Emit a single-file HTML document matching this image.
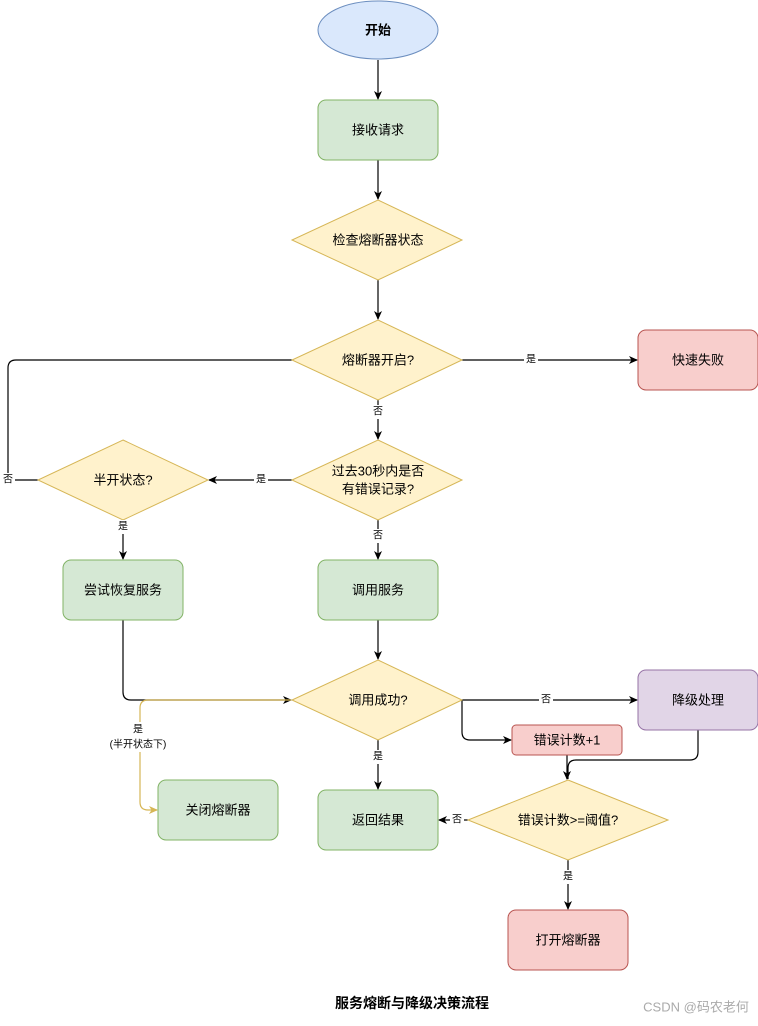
<!DOCTYPE html>
<html><head><meta charset="utf-8"><style>
body{margin:0;background:#fff}
text{font-family:"Liberation Sans","Noto Sans CJK SC",sans-serif;font-size:13px;fill:#000;text-anchor:middle;dominant-baseline:central}
.l{font-size:10px}
</style></head><body>
<svg width="758" height="1021" viewBox="0 0 758 1021" xmlns="http://www.w3.org/2000/svg">
<defs>
<marker id="a" markerWidth="10" markerHeight="10" refX="8" refY="5" orient="auto" markerUnits="userSpaceOnUse"><path d="M0,1 L9,5 L0,9 L2.5,5 Z" fill="#000"/></marker>
<marker id="y" markerWidth="10" markerHeight="10" refX="8" refY="5" orient="auto" markerUnits="userSpaceOnUse"><path d="M0,1 L9,5 L0,9 L2.5,5 Z" fill="#d6b656"/></marker>
</defs>
<g fill="none" stroke="#000" stroke-width="1.2">
<path d="M378 60V99" marker-end="url(#a)"/>
<path d="M378 160V199" marker-end="url(#a)"/>
<path d="M378 280V319" marker-end="url(#a)"/>
<path d="M462 360H637" marker-end="url(#a)"/>
<path d="M38 480H8V368Q8 360 16 360H292"/>
<path d="M378 400V439" marker-end="url(#a)"/>
<path d="M292 480H209" marker-end="url(#a)"/>
<path d="M378 520V559" marker-end="url(#a)"/>
<path d="M123 520V559" marker-end="url(#a)"/>
<path d="M378 620V659" marker-end="url(#a)"/>
<path d="M123 620V692Q123 700 131 700H291" marker-end="url(#a)"/>
<path d="M462 700H637" marker-end="url(#a)"/>
<path d="M462 700V732Q462 740 470 740H511" marker-end="url(#a)"/>
<path d="M378 740V789" marker-end="url(#a)"/>
<path d="M567 755V779" marker-end="url(#a)"/>
<path d="M698 730V752Q698 760 690 760H576Q568 760 568 768V779"/>
<path d="M468 820H439" marker-end="url(#a)"/>
<path d="M568 860V909" marker-end="url(#a)"/>
</g>
<path d="M291 700H148Q140 700 140 708V802Q140 810 148 810H157" fill="none" stroke="#d6b656" stroke-width="1.2" marker-end="url(#y)"/>
<ellipse cx="378" cy="30" rx="60" ry="29" fill="#dae8fc" stroke="#6c8ebf"/>
<g stroke-width="1">
<rect x="318" y="100" width="120" height="60" rx="8" fill="#d5e8d4" stroke="#82b366"/>
<path d="M378 200L462 240L378 280L292 240Z" fill="#fff2cc" stroke="#d6b656"/>
<path d="M378 320L462 360L378 400L292 360Z" fill="#fff2cc" stroke="#d6b656"/>
<rect x="638" y="330" width="120" height="60" rx="8" fill="#f8cecc" stroke="#b85450"/>
<path d="M378 440L462 480L378 520L292 480Z" fill="#fff2cc" stroke="#d6b656"/>
<path d="M123 440L208 480L123 520L38 480Z" fill="#fff2cc" stroke="#d6b656"/>
<rect x="63" y="560" width="120" height="60" rx="8" fill="#d5e8d4" stroke="#82b366"/>
<rect x="318" y="560" width="120" height="60" rx="8" fill="#d5e8d4" stroke="#82b366"/>
<path d="M378 660L462 700L378 740L292 700Z" fill="#fff2cc" stroke="#d6b656"/>
<rect x="638" y="670" width="120" height="60" rx="8" fill="#e1d5e7" stroke="#9673a6"/>
<rect x="512" y="725" width="110" height="30" rx="4" fill="#f8cecc" stroke="#b85450"/>
<rect x="158" y="780" width="120" height="60" rx="8" fill="#d5e8d4" stroke="#82b366"/>
<rect x="318" y="790" width="120" height="60" rx="8" fill="#d5e8d4" stroke="#82b366"/>
<path d="M568 780L668 820L568 860L468 820Z" fill="#fff2cc" stroke="#d6b656"/>
<rect x="508" y="910" width="120" height="60" rx="8" fill="#f8cecc" stroke="#b85450"/>
</g>
<text x="378" y="30" style="font-weight:bold">开始</text>
<text x="378" y="130">接收请求</text>
<text x="378" y="240">检查熔断器状态</text>
<text x="378" y="360">熔断器开启?</text>
<text x="698" y="360">快速失败</text>
<text x="378" y="471">过去30秒内是否</text>
<text x="378" y="489">有错误记录?</text>
<text x="123" y="480">半开状态?</text>
<text x="123" y="590">尝试恢复服务</text>
<text x="378" y="590">调用服务</text>
<text x="378" y="700">调用成功?</text>
<text x="698" y="700">降级处理</text>
<text x="567" y="740">错误计数+1</text>
<text x="218" y="810">关闭熔断器</text>
<text x="378" y="820">返回结果</text>
<text x="568" y="820">错误计数&gt;=阈值?</text>
<text x="568" y="940">打开熔断器</text>
<g class="l">
<rect x="524" y="353" width="14" height="14" fill="#fff"/><text class="l" x="531" y="360">是</text>
<rect x="1" y="473" width="14" height="14" fill="#fff"/><text class="l" x="8" y="480">否</text>
<rect x="371" y="405" width="14" height="14" fill="#fff"/><text class="l" x="378" y="412">否</text>
<rect x="254" y="473" width="14" height="14" fill="#fff"/><text class="l" x="261" y="480">是</text>
<rect x="371" y="529" width="14" height="14" fill="#fff"/><text class="l" x="378" y="536">否</text>
<rect x="116" y="520" width="14" height="14" fill="#fff"/><text class="l" x="123" y="527">是</text>
<rect x="539" y="693" width="14" height="14" fill="#fff"/><text class="l" x="546" y="700">否</text>
<rect x="371" y="750" width="14" height="14" fill="#fff"/><text class="l" x="378" y="757">是</text>
<rect x="104" y="722" width="70" height="30" fill="#fff"/><text class="l" x="138" y="730">是</text><text class="l" x="138" y="745">(半开状态下)</text>
<rect x="450" y="813" width="14" height="14" fill="#fff"/><text class="l" x="457" y="820">否</text>
<rect x="561" y="870" width="14" height="14" fill="#fff"/><text class="l" x="568" y="877">是</text>
</g>
<text x="412" y="1003" style="font-weight:bold;font-size:14px">服务熔断与降级决策流程</text>
<text x="696" y="1007" style="font-size:13px;fill:#aaa">CSDN @码农老何</text>
</svg>
</body></html>
